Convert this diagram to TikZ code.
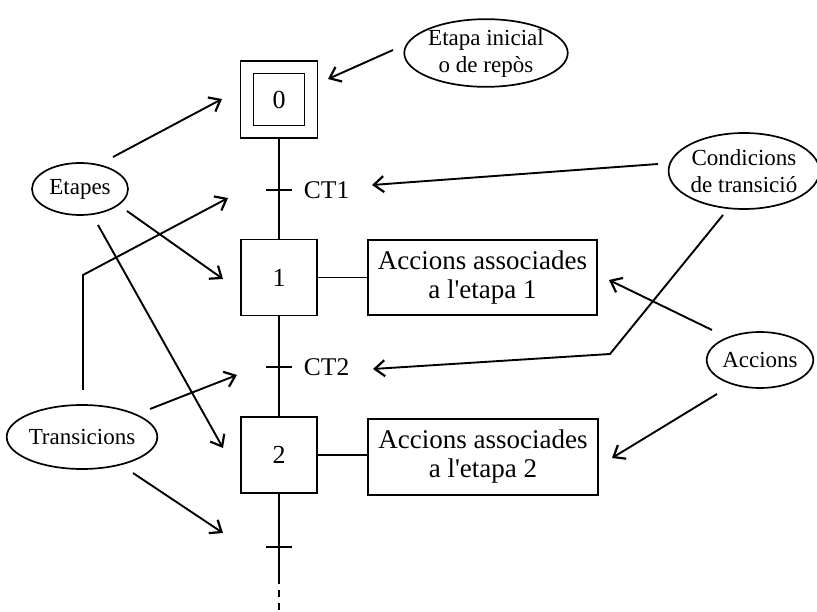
\documentclass[tikz,border=0pt]{standalone}
\usepackage{fontspec}
\setmainfont{Liberation Serif}[Ligatures=TeXOff]
\usetikzlibrary{arrows.meta,shapes.geometric,calc}

\begin{document}
\begin{tikzpicture}[x=1pt,y=-1pt,line width=1.9pt,
  stepbox/.style={draw,minimum width=76,minimum height=76,inner sep=0,
    font=\fontsize{26}{28}\selectfont},
  actbox/.style={draw,minimum width=230,minimum height=76,inner sep=0,align=center,
    font=\fontsize{27}{29}\selectfont},
  bubble/.style={draw,ellipse,inner sep=0,align=center,line width=1.7pt,
    font=\fontsize{23}{27}\selectfont},
  lbl/.style={anchor=west,inner sep=0,font=\fontsize{25.5}{28}\selectfont},
  note/.style={-{Straight Barb[length=10pt,width=16pt,line width=2.2pt]}},
  tick/.style={line width=1.9pt}]
\useasboundingbox (0,0) rectangle (817,612);

% GRAFCET chain: initial step, steps 1 and 2
\node[stepbox,minimum width=77,minimum height=77] (s0) at (279,99.5) {};
\node[stepbox,minimum width=51,minimum height=52] (s0i) at (279,99.5) {0};
\node[stepbox] (s1) at (279,277.5) {1};
\node[stepbox] (s2) at (279,455) {2};

% action blocks
\node[actbox,minimum width=229,minimum height=75] (a1) at (482.5,277.5) {Accions associades\\a l'etapa 1};
\node[actbox] (a2) at (483,457) {Accions associades\\a l'etapa 2};

% transition marks
\coordinate (t1) at (279,190);
\coordinate (t2) at (279,367);
\coordinate (t3) at (279,547);
\coordinate (endsolid) at (279,577);
\coordinate (endopen) at (279,612);

\draw (s0.south) -- (s1.north);
\draw (s1.south) -- (s2.north);
\draw (s2.south) -- (endsolid);
\draw[dash pattern=on 7pt off 6pt] (endsolid) -- (endopen);
\foreach \t in {t1,t2,t3} \draw[tick] ($(\t)+(-13,0)$) -- ($(\t)+(13,0)$);

\node[lbl] (ct1) at (303,190) {CT1};
\node[lbl] (ct2) at (303,367) {CT2};

\draw (s1.east) -- (a1.west);
\draw (s2.east) -- (s2.east -| a2.west);

% explanatory bubbles
\node[bubble,minimum width=162,minimum height=60] (eIni) at (486,53) {Etapa inicial\\o de repòs};
\node[bubble,minimum width=96,minimum height=52] (eEt) at (80,189) {Etapes};
\node[bubble,minimum width=140,minimum height=64] (eTr) at (82,437) {Transicions};
\node[bubble,minimum width=140,minimum height=76] (eCo) at (744,171) {Condicions\\de transició};
\node[bubble,minimum width=106,minimum height=56] (eAc) at (760,360) {Accions};

% pointer lines
\coordinate (pIni0) at (393,50);   \coordinate (pIni1) at (328,79);
\coordinate (pEa0) at (113,157);   \coordinate (pEa1) at (222,99);
\coordinate (pEb0) at (127,211);   \coordinate (pEb1) at (223,279);
\coordinate (pEc0) at (98,225);    \coordinate (pEc1) at (223,448);
\coordinate (pTa0) at (150,409);   \coordinate (pTa1) at (237,375);
\coordinate (pTb0) at (133,473);   \coordinate (pTb1) at (223,533);
\coordinate (pTc0) at (83,390);    \coordinate (pTcK) at (83,275);   \coordinate (pTc1) at (228,198);
\coordinate (pCa0) at (658,164);   \coordinate (pCa1) at (372,185);
\coordinate (pCb0) at (723,215);   \coordinate (pCbK) at (610,354);  \coordinate (pCb1) at (373,369);
\coordinate (pAa0) at (712,330);   \coordinate (pAa1) at (609,280);
\coordinate (pAb0) at (717,394);   \coordinate (pAb1) at (612,458);

\draw[note] (pIni0) -- (pIni1);
\draw[note] (pEa0) -- (pEa1);
\draw[note] (pEb0) -- (pEb1);
\draw[note] (pEc0) -- (pEc1);
\draw[note] (pTa0) -- (pTa1);
\draw[note] (pTb0) -- (pTb1);
\draw[note] (pTc0) -- (pTcK) -- (pTc1);
\draw[note] (pCa0) -- (pCa1);
\draw[note] (pCb0) -- (pCbK) -- (pCb1);
\draw[note] (pAa0) -- (pAa1);
\draw[note] (pAb0) -- (pAb1);
\end{tikzpicture}
\end{document}
